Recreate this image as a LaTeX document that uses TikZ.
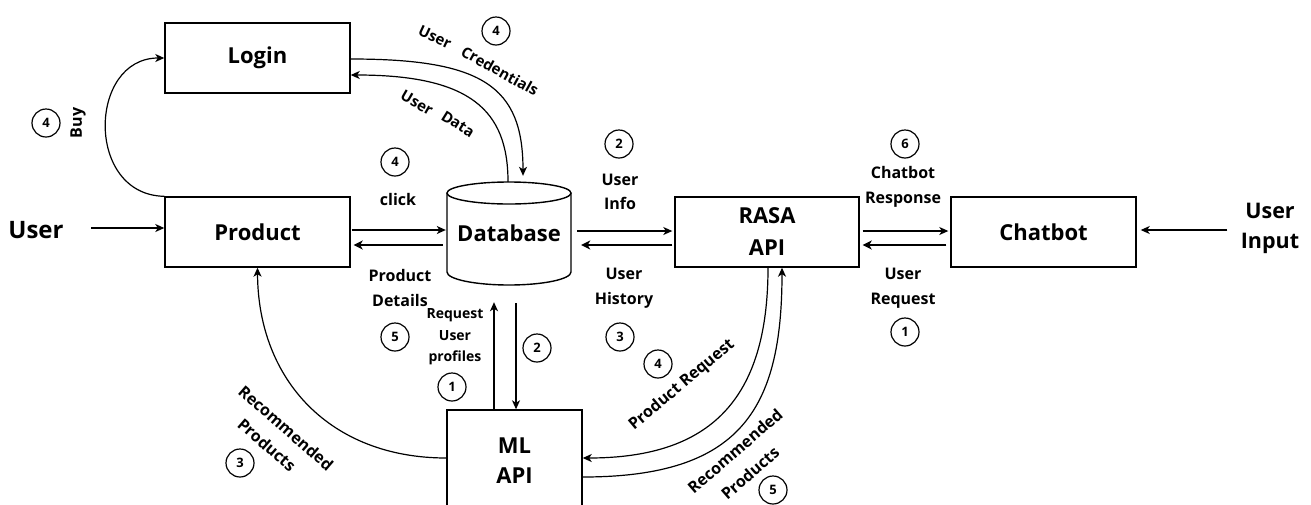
\documentclass[tikz,border=0pt]{standalone}
\usepackage{fontspec}
\setmainfont{Open Sans}
\usetikzlibrary{arrows.meta}

\newcommand\boxfont{\fontsize{22}{32}\selectfont\bfseries}
\newcommand\sidefont{\fontsize{24}{30}\selectfont\bfseries}
\newcommand\inputfont{\fontsize{21.5}{30}\selectfont\bfseries}
\newcommand\labfont{\fontsize{16}{24.5}\selectfont\bfseries}
\newcommand\arcfont{\fontsize{15}{18}\selectfont\bfseries}
\newcommand\smlfont{\fontsize{14}{21.5}\selectfont\bfseries}
\newcommand\numfont{\fontsize{13}{13}\selectfont\bfseries}

\tikzset{
  box/.style={draw, line width=1.4pt, inner sep=0pt, minimum width=185pt, minimum height=70pt, font=\boxfont, align=center},
  arr/.style={-{Stealth[length=9pt,width=8pt,inset=2.5pt]}, line width=1.2pt},
  arrb/.style={-{Stealth[length=9pt,width=9pt,inset=2.5pt]}, line width=2.2pt},
  num/.style={circle, draw, line width=1.2pt, minimum size=28pt, inner sep=0pt, font=\numfont},
  lab/.style={font=\labfont, align=center, inner sep=0pt},
  arclab/.style={font=\arcfont, inner sep=0pt}
}

\begin{document}
\begin{tikzpicture}[x=1pt, y=-1pt]
\fill[white] (0,0) rectangle (1311,504);
\useasboundingbox (0,0) rectangle (1311,504);

% process boxes
\node[box] (login) at (257.5,58) {Login};
\node[box] (prod) at (257.5,232) {Product};
\node[box, minimum width=184pt] (rasa) at (767,232) {RASA\\API};
\node[box] (chat) at (1043.5,232) {Chatbot};
\node[box, minimum width=135pt, minimum height=102pt, font=\fontsize{22}{30}\selectfont\bfseries] (ml) at (514.5,461) {ML\\API};

% database cylinder
\node[inner sep=0pt, minimum width=124pt, minimum height=103pt, font=\boxfont] (db) at (509,233.5) {Database};
\draw[line width=1.4pt] (509,193) ellipse [x radius=62pt, y radius=11pt];
\draw[line width=1.4pt] (447,193) -- (447,272) arc[start angle=180, end angle=360, x radius=62pt, y radius=13pt] -- (571,193);

% external entities
\node[font=\sidefont] (user) at (36,230) {User};
\node[font=\inputfont, align=center] (userin) at (1270,228) {User\\Input};

% straight flows
\draw[arr] ([xshift=24pt,yshift=2pt]user.east) -- ([yshift=4pt]prod.west);
\draw[arr] ([xshift=-10pt,yshift=-2pt]userin.west) -- ([xshift=4pt,yshift=2pt]chat.east);

\draw[arr] ([xshift=1pt,yshift=2pt]prod.east) -- ([xshift=-1pt,yshift=3.5pt]db.west);
\draw[arrb] ([xshift=-4pt,yshift=-11.5pt]db.west) -- ([xshift=3pt,yshift=-13pt]prod.east);

\draw[arr] ([xshift=6pt,yshift=2.5pt]db.east) -- ([xshift=-2pt,yshift=1pt]rasa.west);
\draw[arrb] ([xshift=-2pt,yshift=-13pt]rasa.west) -- ([xshift=10pt,yshift=-11.5pt]db.east);

\draw[arr] ([xshift=3pt,yshift=1pt]rasa.east) -- ([xshift=-2pt,yshift=1pt]chat.west);
\draw[arrb] ([xshift=-4pt,yshift=-13pt]chat.west) -- ([xshift=3pt,yshift=-13pt]rasa.east);

\draw[arr] ([xshift=-20.5pt]ml.north) -- ([xshift=-15pt,yshift=-17pt]db.south);
\draw[arr] ([xshift=7pt,yshift=-18pt]db.south) -- ([xshift=1.5pt]ml.north);

% curved flows
\draw[arr] (prod.north west) .. controls (85,195) and (88,58) .. (login.west);
\draw[arr] ([yshift=-1pt]login.east) .. controls (482,59) and (523,86) .. ([xshift=14pt,yshift=6pt]db.north);
\draw[arr] ([xshift=-1pt]db.north) .. controls (508,110) and (470,75) .. ([yshift=-17pt]login.east);
\draw[arr] ([xshift=1pt]rasa.south) .. controls (768,400) and (710,458) .. ([yshift=3pt]ml.east);
\draw[arr] ([yshift=-16pt]ml.east) .. controls (740,477) and (782,410) .. ([xshift=15pt]rasa.south);
\draw[arr] ([yshift=3pt]ml.west) .. controls (330,458) and (258,380) .. (prod.south);

% flow labels
\node[arclab, rotate=-25] (lcu) at (435,37) {User};
\node[arclab, rotate=-29] (lcc) at (500,71) {Credentials};
\node[arclab, rotate=-30] (ldu) at (417,103) {User};
\node[arclab, rotate=-32] (ldd) at (458,124) {Data};
\node[lab, rotate=90] (lbuy) at (78,123) {Buy};
\node[lab] (lclick) at (398,199) {click};
\node[lab] (linfo) at (620,192) {User\\Info};
\node[lab] (lresp) at (903,187) {Chatbot\\Response};
\node[lab] (ldet) at (400,288) {Product\\Details};
\node[lab] (lhist) at (624,288) {User\\History};
\node[lab] (lreq) at (903,288) {User\\Request};
\node[lab, font=\smlfont] (lprof) at (455,337) {Request\\User\\profiles};
\node[lab, rotate=40] (lpreq) at (682,385) {Product Request};
\node[lab, rotate=41] (lrecr) at (735,451) {Recommended};
\node[lab, rotate=41] (lprodr) at (750,473) {Products};
\node[lab, rotate=-41] (lrecl) at (286,428) {Recommended};
\node[lab, rotate=-41] (lprodl) at (267,445) {Products};

% step numbers
\node[num] (s1) at (46,123) {4};
\node[num] (s2) at (496,31) {4};
\node[num] (s3) at (395,162) {4};
\node[num] (s4) at (619,144) {2};
\node[num] (s5) at (905,144) {6};
\node[num] (s6) at (395,337) {5};
\node[num] (s7) at (452,387) {1};
\node[num] (s8) at (537,348) {2};
\node[num] (s9) at (620,337) {3};
\node[num] (s10) at (658,364) {4};
\node[num] (s11) at (905,332) {1};
\node[num] (s12) at (240,463) {3};
\node[num] (s13) at (773,490) {5};
\end{tikzpicture}
\end{document}
